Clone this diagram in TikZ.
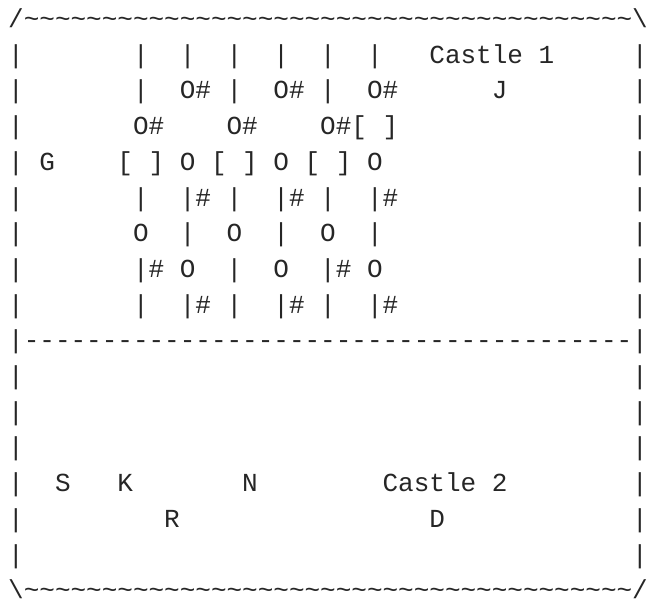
\documentclass[tikz,border=0pt]{standalone}
\usepackage{fontspec}
\newfontfamily\asciifont{Liberation Mono}
\tikzset{ch/.style={anchor=base west, inner sep=0pt, outer sep=0pt,
  font=\asciifont\fontsize{26bp}{30bp}\selectfont, text=black!85},
  tilde/.style={ch, text depth=0pt}}
\newcommand\cw{15.6}
\newcommand\xo{8.2}
\newcommand\yo{27.5}
\newcommand\lh{35.7}
\begin{document}
\begin{tikzpicture}[x=1bp,y=1bp]
\useasboundingbox (0,0) rectangle (648,-602);
% frame corners
\node[ch] (c1) at ({\xo},{-\yo}) {/};
\node[ch] (c2) at ({\xo+\cw*40},{-\yo}) {\textbackslash};
\node[ch] (c3) at ({\xo},{-\yo-\lh*16}) {\textbackslash};
\node[ch] (c4) at ({\xo+\cw*40},{-\yo-\lh*16}) {/};
% tilde rows and dashed divider
\foreach \c in {1,...,39} {
  \node[tilde] (tt\c) at ({\xo+\cw*\c},{-\yo}) {\textasciitilde};
  \node[tilde] (tb\c) at ({\xo+\cw*\c},{-\yo-\lh*16}) {\textasciitilde};
  \node[ch] (dd\c) at ({\xo+\cw*\c},{-\yo-\lh*9}) {-};
}
% side walls
\foreach \r in {2,...,16} {
  \node[ch] (wl\r) at ({\xo},{-\yo-\lh*(\r-1)}) {|};
  \node[ch] (wr\r) at ({\xo+\cw*40},{-\yo-\lh*(\r-1)}) {|};
}
% content
\foreach \r/\c/\t [count=\i] in {
  2/8/|, 2/11/|, 2/14/|, 2/17/|, 2/20/|, 2/23/|, 2/27/Castle, 2/34/1,
  3/8/|, 3/11/O\#, 3/14/|, 3/17/O\#, 3/20/|, 3/23/O\#, 3/31/J,
  4/8/O\#, 4/14/O\#, 4/20/O\#, 4/22/{[}, 4/24/{]},
  5/2/G, 5/7/{[}, 5/9/{]}, 5/11/O, 5/13/{[}, 5/15/{]}, 5/17/O, 5/19/{[}, 5/21/{]}, 5/23/O,
  6/8/|, 6/11/|\#, 6/14/|, 6/17/|\#, 6/20/|, 6/23/|\#,
  7/8/O, 7/11/|, 7/14/O, 7/17/|, 7/20/O, 7/23/|,
  8/8/|\#, 8/11/O, 8/14/|, 8/17/O, 8/20/|\#, 8/23/O,
  9/8/|, 9/11/|\#, 9/14/|, 9/17/|\#, 9/20/|, 9/23/|\#,
  14/3/S, 14/7/K, 14/15/N, 14/24/Castle, 14/31/2,
  15/10/R, 15/27/D}
  \node[ch] (g\i) at ({\xo+\cw*\c},{-\yo-\lh*(\r-1)}) {\t};
\end{tikzpicture}
\end{document}
